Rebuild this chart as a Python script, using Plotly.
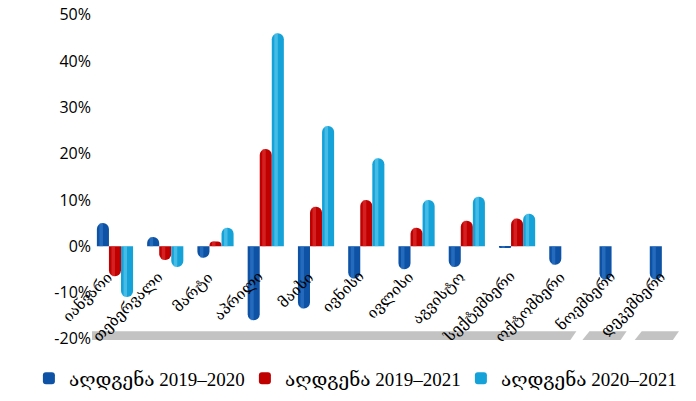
import plotly.graph_objects as go

months = ["იანვარი", "თებერვალი", "მარტი", "აპრილი", "მაისი", "ივნისი",
          "ივლისი", "აგვისტო", "სექტემბერი", "ოქტომბერი", "ნოემბერი", "დეკემბერი"]
s_2019_2020 = [5, 2, -2.5, -16, -13.5, -7, -5, -4.5, -0.3, -4, -7.2, -7.2]
s_2019_2021 = [-6.5, -3, 1, 21, 8.5, 10, 4, 5.5, 6, None, None, None]
s_2020_2021 = [-11, -4.5, 4, 46, 26, 19, 10, 10.7, 7, None, None, None]
names = ["აღდგენა 2019–2020", "აღდგენა 2019–2021", "აღდგენა 2020–2021"]
y_ticks = [-20, -10, 0, 10, 20, 30, 40, 50]
y_tick_text = ["-20%", "-10%", "0%", "10%", "20%", "30%", "40%", "50%"]

colors = ["#0d52a4", "#c00000", "#14a2d8"]
highlights = ["#3a80d2", "#e43a3a", "#6fd0f2"]
series = [s_2019_2020, s_2019_2021, s_2020_2021]
offsets = [-0.36, -0.12, 0.12]
W = 0.24

fig = go.Figure()
for vals, name, c, off in zip(series, names, colors, offsets):
    fig.add_trace(go.Bar(x=months, y=vals, name=name, offset=off, width=W,
                         marker=dict(color=c, cornerradius="50%", line=dict(width=0))))
for vals, c, off in zip(series, highlights, offsets):
    fig.add_trace(go.Bar(x=months, y=vals, offset=off + 0.05, width=0.07, showlegend=False,
                         hoverinfo="skip",
                         marker=dict(color=c, opacity=0.55, cornerradius="50%", line=dict(width=0))))

# floor shadow
for a, b in [(-0.52, 9.12), (9.42, 10.12), (10.46, 11.16)]:
    fig.add_shape(type="path", xref="x", yref="y", layer="below",
                  path=f"M {a-0.12},-20.3 L {a+0.02},-18.4 L {b+0.06},-18.4 L {b-0.06},-20.3 Z",
                  fillcolor="#b8b8b8", line=dict(width=0), opacity=0.85)

for m in months:
    fig.add_annotation(x=m, y=0, xref="x", yref="y", text=m, showarrow=False,
                       textangle=-45, xanchor="right", yanchor="top", xshift=4, yshift=-19,
                       font=dict(family="DejaVu Serif", size=15, color="#000"))

fig.update_layout(
    width=696, height=401, barmode="overlay",
    paper_bgcolor="white", plot_bgcolor="white",
    margin=dict(l=92, r=3, t=13, b=57),
    xaxis=dict(showticklabels=False, showgrid=False, zeroline=False, showline=False,
               range=[-0.457, 11.5], fixedrange=True),
    yaxis=dict(range=[-20.5, 50.4], tickvals=y_ticks, ticktext=y_tick_text,
               showgrid=False, zeroline=False, showline=False, automargin=False,
               tickfont=dict(family="Open Sans", size=16, color="#000")),
    legend=dict(orientation="h", x=-0.105, xanchor="left", y=-0.172, yanchor="bottom",
                font=dict(family="Liberation Serif, DejaVu Serif", size=19, color="#000"),
                itemwidth=30, traceorder="normal", entrywidth=171, entrywidthmode="pixels"),
    showlegend=True,
)

fig.write_html("out.html", config={"displayModeBar": False},
               post_script="document.body.style.margin='0';")
